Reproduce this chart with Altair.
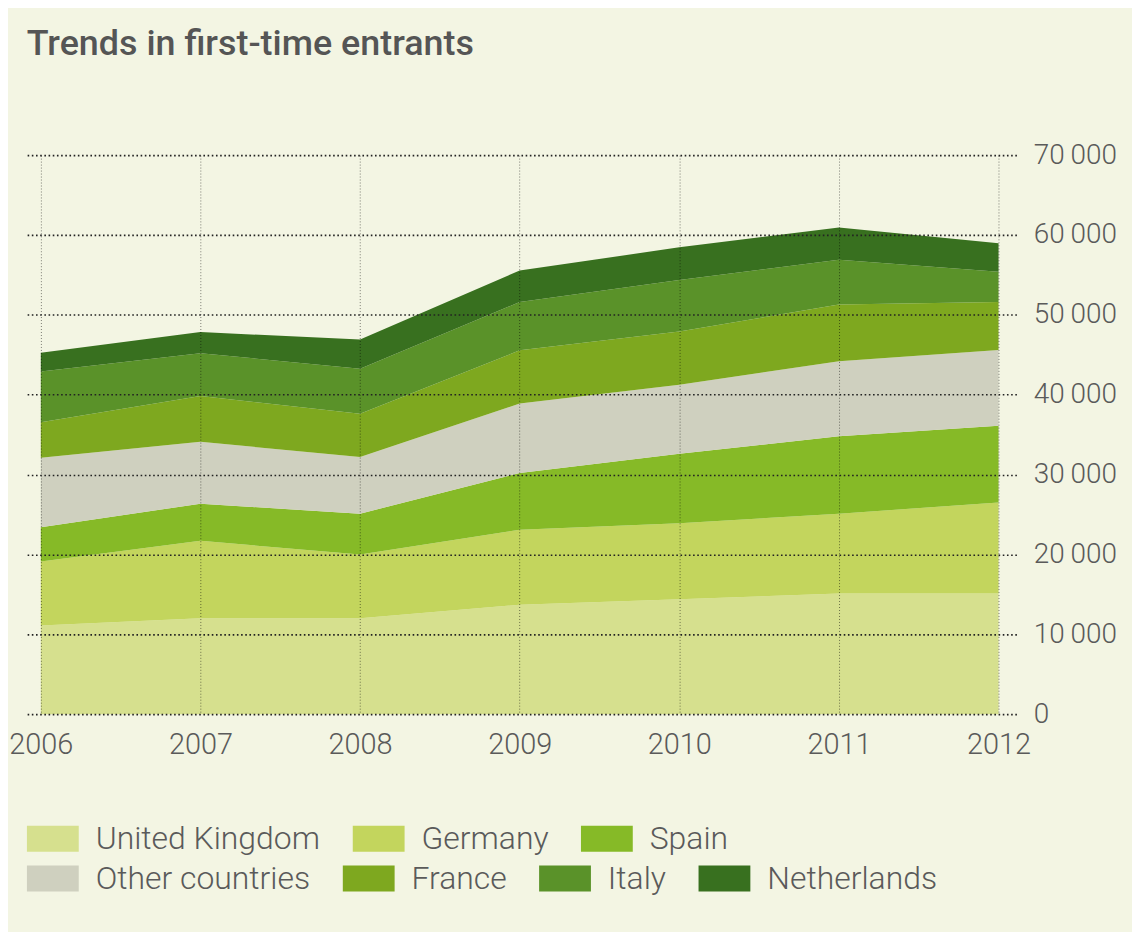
import altair as alt
import numpy as np
import pandas as pd

years = [2006, 2007, 2008, 2009, 2010, 2011, 2012]
countries = ["United Kingdom", "Germany", "Spain", "Other countries", "France", "Italy", "Netherlands"]
uk = [11100, 12000, 12000, 13700, 14400, 15100, 15100]
germany = [8000, 9700, 8000, 9400, 9500, 10000, 11400]
spain = [4300, 4650, 5100, 7100, 8700, 9700, 9600]
other = [8700, 7750, 7100, 8700, 8650, 9400, 9500]
france = [4450, 5750, 5400, 6650, 6650, 7100, 6000]
italy = [6350, 5350, 5650, 6050, 6450, 5600, 3800]
netherlands = [2350, 2650, 3650, 3950, 4100, 4050, 3550]
colors = ["#D6E08E", "#C3D55D", "#86BA27", "#CFD0BF", "#7EA81F", "#5A9229", "#38701F"]
y_ticks = [0, 10000, 20000, 30000, 40000, 50000, 60000, 70000]

series = [uk, germany, spain, other, france, italy, netherlands]
vals = np.array(series, dtype=float)
hi = np.cumsum(vals, axis=0)
lo = hi - vals
rows = []
for i, c in enumerate(countries):
    for j, yr in enumerate(years):
        rows.append({"year": yr, "country": c, "lo": lo[i, j], "hi": hi[i, j],
                     "grp": 1 if i < 3 else 2})
df = pd.DataFrame(rows)

FONT = "Roboto"
TXT = "#5a5a5a"
thin = "\u2009"

x_axis = alt.Axis(values=years, format="d", grid=True, gridColor="#000000",
                  gridOpacity=0.5, gridDash=[1, 2], gridWidth=1, ticks=False,
                  domain=False, labelFontSize=29, labelPadding=17, labelFont=FONT,
                  labelFontWeight=300, labelColor=TXT, title=None, zindex=1,
                  labelFlush=False)
y_axis = alt.Axis(orient="right", values=y_ticks,
                  labelExpr="replace(format(datum.value, ','), ',', '" + thin + "')",
                  grid=True, gridColor="#222222", gridDash=[1.6, 2.6], gridWidth=1.6,
                  ticks=False, domain=False, labelFontSize=28, labelFont=FONT,
                  labelFontWeight=300, labelColor=TXT, labelAlign="left",
                  labelPadding=17, labelBaseline="middle", title=None, zindex=1)
x_scale = alt.Scale(domain=[2005.913, 2012.112], nice=False, zero=False)
y_scale = alt.Scale(domain=[0, 70000], nice=False)

sym = "M-1,-0.5H1V0.5H-1Z"


def legend(ly):
    return alt.Legend(title=None, orient="none", legendX=0, legendY=ly,
                      direction="horizontal", symbolType=sym, symbolSize=2704,
                      symbolStrokeWidth=0, symbolOpacity=1, labelFontSize=32,
                      labelFont=FONT, labelFontWeight=300, labelColor=TXT,
                      labelLimit=500, labelOffset=17, columnPadding=32)


def layer(g, ly):
    sub = df[df.grp == g]
    dom = [c for c in countries if c in set(sub.country)]
    rng = [colors[countries.index(c)] for c in dom]
    return alt.Chart(sub).mark_area(opacity=1).encode(
        x=alt.X("year:Q", scale=x_scale, axis=x_axis),
        y=alt.Y("lo:Q", scale=y_scale, axis=y_axis),
        y2="hi:Q",
        color=alt.Color("country:N", scale=alt.Scale(domain=dom, range=rng),
                        legend=legend(ly), sort=dom),
    )


chart = alt.layer(layer(1, 660), layer(2, 700)).resolve_scale(color="independent").properties(
    width=993, height=561,
    title=alt.Title("Trends in first-time entrants", anchor="start", fontSize=36,
                    font=FONT, fontWeight=500, color="#555555", offset=78, dx=18),
    autosize=alt.AutoSizeParams(type="none"),
    padding={"left": 19, "top": 146, "right": 116, "bottom": 217},
).configure(background="#F3F5E3").configure_view(stroke=None)

chart.save("out.html", embed_options={"renderer": "svg", "actions": False})
